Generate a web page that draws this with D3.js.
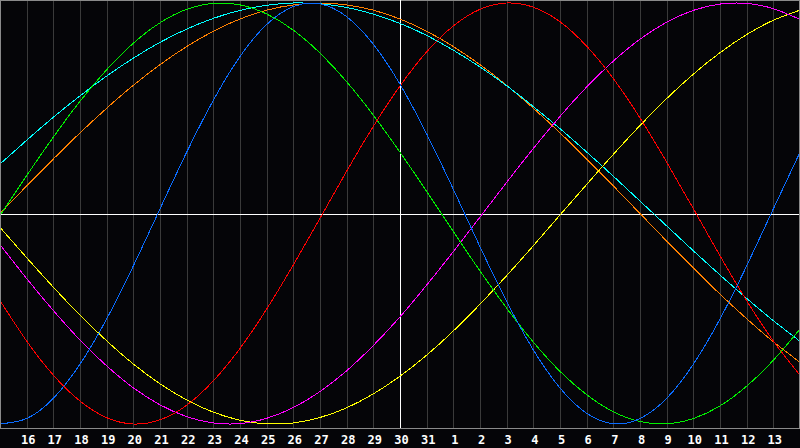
<!DOCTYPE html>
<html>
<head>
<meta charset="utf-8">
<script src="https://cdn.jsdelivr.net/npm/d3@7"></script>
<style>
  html, body { margin: 0; padding: 0; background: #050508; }
  svg { display: block; }
</style>
</head>
<body>
<svg id="chart" width="800" height="448"></svg>
<script>
// Day labels (from day 15 at the left edge to day 14 at the right edge)
const days = ["15","16","17","18","19","20","21","22","23","24","25","26","27","28","29","30","31",
              "1","2","3","4","5","6","7","8","9","10","11","12","13","14"];
const todayIndex = 15; // day 30
const labelIdx = d3.range(1, 30); // labelled days 16 .. 13

// Series values per day (range -1 .. 1)
const blue    = [-0.999,-0.974,-0.878,-0.716,-0.501,-0.249,0.022,0.291,0.538,0.746,0.898,0.983,0.996,0.935,0.804,0.614,0.378,0.115,-0.158,-0.418,-0.648,-0.829,-0.949,-0.999,-0.974,-0.878,-0.716,-0.501,-0.249,0.022,0.291];
const red     = [-0.414,-0.606,-0.768,-0.891,-0.970,-1.000,-0.980,-0.911,-0.795,-0.641,-0.454,-0.244,-0.023,0.201,0.414,0.606,0.768,0.891,0.970,1.000,0.980,0.911,0.795,0.641,0.454,0.244,0.023,-0.201,-0.414,-0.606,-0.768];
const green   = [-0.010,0.180,0.363,0.533,0.683,0.809,0.906,0.970,0.998,0.991,0.948,0.871,0.762,0.626,0.467,0.291,0.105,-0.086,-0.273,-0.450,-0.611,-0.750,-0.861,-0.942,-0.988,-0.999,-0.974,-0.914,-0.820,-0.697,-0.549];
const magenta = [-0.148,-0.309,-0.461,-0.601,-0.724,-0.828,-0.909,-0.965,-0.995,-0.998,-0.973,-0.922,-0.846,-0.747,-0.627,-0.491,-0.340,-0.181,-0.017,0.148,0.309,0.461,0.601,0.724,0.828,0.909,0.965,0.995,0.998,0.973,0.922];
const yellow  = [-0.066,-0.210,-0.350,-0.483,-0.605,-0.715,-0.809,-0.886,-0.944,-0.982,-0.999,-0.995,-0.969,-0.923,-0.857,-0.773,-0.673,-0.558,-0.431,-0.295,-0.153,-0.007,0.138,0.281,0.418,0.546,0.662,0.764,0.850,0.918,0.966];
const orange  = [0.000,0.131,0.259,0.383,0.500,0.609,0.707,0.793,0.866,0.924,0.966,0.991,1.000,0.991,0.966,0.924,0.866,0.793,0.707,0.609,0.500,0.383,0.259,0.131,0.000,-0.131,-0.259,-0.383,-0.500,-0.609,-0.707];
const cyan    = [0.235,0.348,0.457,0.559,0.653,0.738,0.813,0.876,0.927,0.965,0.989,1.000,0.996,0.979,0.947,0.903,0.846,0.776,0.696,0.607,0.508,0.403,0.292,0.177,0.059,-0.059,-0.177,-0.292,-0.403,-0.509,-0.607];

const series = [
  { name: "orange",  values: orange,  color: "#ff8000" },
  { name: "cyan",    values: cyan,    color: "#00ffff" },
  { name: "yellow",  values: yellow,  color: "#ffff00" },
  { name: "magenta", values: magenta, color: "#ff00ff" },
  { name: "green",   values: green,   color: "#00f000" },
  { name: "red",     values: red,     color: "#ff0000" },
  { name: "blue",    values: blue,    color: "#0a6cff" }
];

const W = 800, plotBottom = 428;
const svg = d3.select("#chart");

svg.append("rect").attr("x", 0).attr("y", 0).attr("width", W).attr("height", 448).attr("fill", "#050508");

const x = d3.scaleLinear().domain([0, days.length - 1]).range([0, W]);
const y = d3.scaleLinear().domain([-1, 1]).range([424, 3]);
const px = v => Math.round(v) + 0.5;

// vertical day grid
svg.append("g").selectAll("line").data(labelIdx.filter(i => i !== todayIndex)).join("line")
  .attr("x1", i => px(x(i))).attr("x2", i => px(x(i)))
  .attr("y1", 0).attr("y2", plotBottom)
  .attr("stroke", "#3a3a3a").attr("stroke-width", 1).attr("shape-rendering", "crispEdges");

// frame
svg.append("rect").attr("x", 0.5).attr("y", 0.5).attr("width", W - 1).attr("height", plotBottom)
  .attr("fill", "none").attr("stroke", "#8a8a8a").attr("stroke-width", 1).attr("shape-rendering", "crispEdges");

// zero line
svg.append("line").attr("x1", 1).attr("x2", W - 1)
  .attr("y1", px(y(0))).attr("y2", px(y(0)))
  .attr("stroke", "#ffffff").attr("stroke-width", 1).attr("shape-rendering", "crispEdges");

// today line
svg.append("line").attr("x1", px(x(todayIndex))).attr("x2", px(x(todayIndex)))
  .attr("y1", 0).attr("y2", plotBottom)
  .attr("stroke", "#ffffff").attr("stroke-width", 1).attr("shape-rendering", "crispEdges");

// curves
const line = d3.line().x((d, i) => x(i)).y(d => y(d)).curve(d3.curveNatural);
svg.append("clipPath").attr("id", "clip").append("rect")
  .attr("x", 1).attr("y", 1).attr("width", W - 2).attr("height", plotBottom - 1);
svg.append("g").attr("clip-path", "url(#clip)").selectAll("path").data(series).join("path")
  .attr("d", s => line(s.values))
  .attr("fill", "none").attr("stroke", s => s.color).attr("stroke-width", 1)
  .attr("shape-rendering", "crispEdges");

// axis labels
const axis = d3.axisBottom(x).tickValues(labelIdx).tickFormat(i => days[i]).tickSize(0).tickPadding(0);
const ax = svg.append("g").attr("transform", `translate(0,${plotBottom})`).call(axis);
ax.select(".domain").remove();
ax.selectAll("text")
  .attr("dy", null).attr("y", 15.5).attr("x", 1)
  .attr("fill", "#ffffff")
  .style("font-family", "'DejaVu Sans Mono', monospace")
  .style("font-weight", "bold")
  .style("font-size", "12px");
</script>
</body>
</html>
